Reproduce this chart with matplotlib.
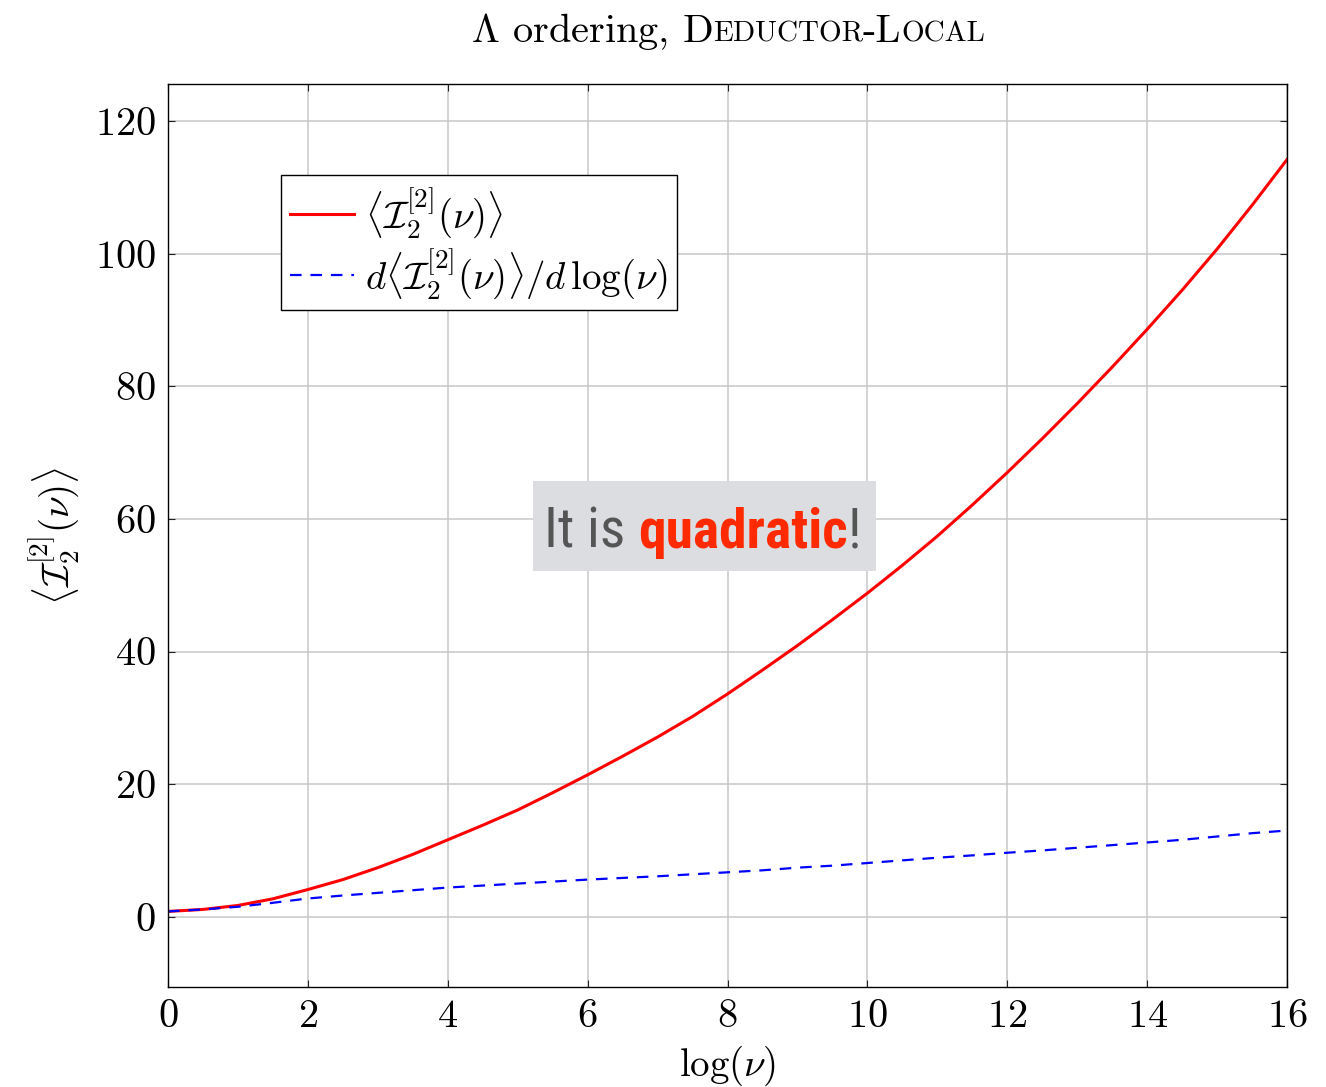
import matplotlib
matplotlib.use("Agg")
import matplotlib.pyplot as plt
from matplotlib.patches import Rectangle

# values
log_nu = [0, 0.5, 1, 1.5, 2, 2.5, 3, 3.5, 4, 4.5, 5, 5.5, 6, 6.5, 7, 7.5, 8,
          8.5, 9, 9.5, 10, 10.5, 11, 11.5, 12, 12.5, 13, 13.5, 14, 14.5, 15, 15.5, 16]
mean_I = [0.8, 1.1, 1.7, 2.7, 4.1, 5.6, 7.4, 9.4, 11.6, 13.8, 16.1, 18.7, 21.4,
          24.2, 27.1, 30.2, 33.6, 37.2, 40.9, 44.8, 48.8, 53.0, 57.4, 62.1, 67.0,
          72.1, 77.4, 82.9, 88.6, 94.5, 100.7, 107.3, 114.2]
dmean_dlog = [0.8, 1.1, 1.5, 2.1, 2.75, 3.2, 3.6, 4.0, 4.4, 4.7, 5.0, 5.3, 5.6,
              5.85, 6.1, 6.4, 6.7, 7.0, 7.4, 7.7, 8.1, 8.5, 8.9, 9.25, 9.65,
              10.0, 10.4, 10.8, 11.2, 11.6, 12.1, 12.6, 13.0]
xticks = [0, 2, 4, 6, 8, 10, 12, 14, 16]
yticks = [0, 20, 40, 60, 80, 100, 120]

plt.rcParams['font.family'] = 'cmr10'
plt.rcParams['mathtext.fontset'] = 'cm'
plt.rcParams['axes.formatter.use_mathtext'] = True

W, H = 1326, 1087
fig = plt.figure(figsize=(W / 100, H / 100), dpi=100)
ax = fig.add_axes([168 / W, 1 - 987 / H, (1287 - 168) / W, (987 - 84) / H])

ax.plot(log_nu, mean_I, color='#ff0000', lw=2.2,
        label=r'$\langle \mathcal{I}_2^{[2]}(\nu)\rangle$')
ax.plot(log_nu, dmean_dlog, color='#0000ff', lw=1.6, dashes=(5.2, 4),
        label=r'$d\langle \mathcal{I}_2^{[2]}(\nu)\rangle/d\,\log(\nu)$')

ax.set_xlim(0, 16)
ax.set_ylim(-10.6, 125.6)
ax.set_xticks(xticks)
ax.set_yticks(yticks)
ax.grid(True, color='#c8c8c8', lw=1.1)
ax.tick_params(direction='in', length=5, width=0.8, top=True, right=True,
               labelsize=29, pad=9, colors='#222222', labelcolor='black')
for s in ax.spines.values():
    s.set_linewidth(1.0)

ax.set_xlabel(r'$\log(\nu)$', fontsize=28, labelpad=6)
ax.set_ylabel(r'$\langle \mathcal{I}_2^{[2]}(\nu)\rangle$', fontsize=28, labelpad=10)

leg = ax.legend(loc='upper left', bbox_to_anchor=(0.101, 0.899), borderaxespad=0,
                fontsize=28, fancybox=False, edgecolor='black', framealpha=1,
                handlelength=1.65, handletextpad=0.3, borderpad=0.22, labelspacing=0.15)
leg.get_frame().set_linewidth(1.0)

# title with small caps built from pieces
fig.canvas.draw()
r = fig.canvas.get_renderer()
big, small = 29, 21
pieces = [(r'$\Lambda$ ordering, D', big), ('EDUCTOR', small), ('-L', big), ('OCAL', small)]
texts = [fig.text(0, 1 - 42 / H, s, fontsize=f, va='baseline', ha='left') for s, f in pieces]
widths = [t.get_window_extent(r).width for t in texts]
x = 728 - sum(widths) / 2
for t, w in zip(texts, widths):
    t.set_x(x / W)
    x += w

# "It is quadratic!" box
fig.patches.append(Rectangle((533 / W, 1 - 571 / H), (876 - 533) / W, 90 / H,
                             transform=fig.transFigure, facecolor='#dcdde0',
                             edgecolor='none', zorder=3))
nfam = ['Roboto Condensed', 'Liberation Sans Narrow', 'DejaVu Sans']
parts = [('It is ', '#555555', 'normal'), ('quadratic', '#ff2a00', 'bold'), ('!', '#555555', 'normal')]
texts = [fig.text(0, 1 - 548 / H, s, fontsize=40, color=c, weight=wt, family=nfam,
                  stretch='condensed', va='baseline', ha='left', zorder=4)
         for s, c, wt in parts]
fig.canvas.draw()
widths = [t.get_window_extent(r).width for t in texts]
x = 703 - sum(widths) / 2
for t, w in zip(texts, widths):
    t.set_x(x / W)
    x += w

fig.savefig('out.png', dpi=100)
